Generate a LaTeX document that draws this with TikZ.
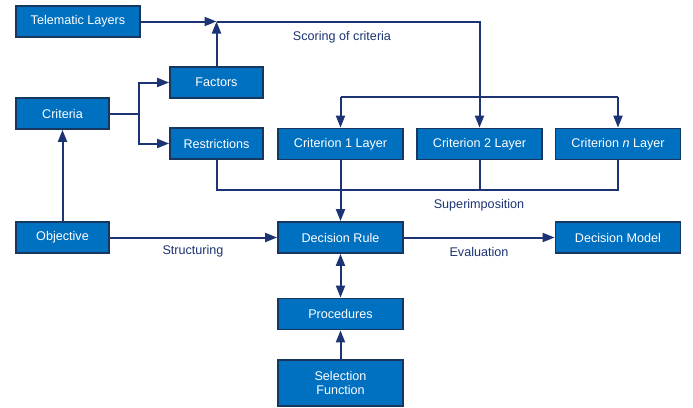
\documentclass[tikz,border=0pt]{standalone}
\usepackage{fontspec}
\setmainfont{Liberation Sans}
\usetikzlibrary{arrows.meta}
\definecolor{boxfill}{HTML}{0070C0}
\definecolor{boxline}{HTML}{17375E}
\definecolor{linecol}{HTML}{1C3473}
\begin{document}
\begin{tikzpicture}[x=1pt,y=-1pt,
  box/.style={draw=boxline,line width=1.8pt,fill=boxfill,text=white,
    minimum height=31pt,inner sep=0pt,align=center,
    font=\fontsize{12.6}{14.5}\selectfont},
  wbox/.style={box,minimum width=125pt},
  sbox/.style={box,minimum width=93pt},
  conn/.style={draw=linecol,line width=2pt},
  arr/.style={conn,-{Triangle[length=12pt,width=9pt]}},
  darr/.style={conn,{Triangle[length=12pt,width=9pt]}-{Triangle[length=12pt,width=9pt]}},
  lbl/.style={text=linecol,font=\fontsize{12.6}{14.5}\selectfont,inner sep=0pt}]
\useasboundingbox[fill=white] (0,0) rectangle (693,407);

\node[box,minimum width=124pt] (tel) at (78,21.5) {Telematic Layers};
\node[sbox] (fac) at (216.5,82.5) {Factors};
\node[sbox] (cri) at (62.5,113.5) {Criteria};
\node[sbox] (res) at (216.5,143.5) {Restrictions};
\node[wbox] (c1) at (340.5,144) {Criterion 1 Layer};
\node[wbox] (c2) at (479.5,144) {Criterion 2 Layer};
\node[wbox] (cn) at (618,144) {Criterion \emph{n} Layer};
\node[sbox] (obj) at (62.5,237.5) {Objective};
\node[wbox] (dr) at (340.5,237.5) {Decision Rule};
\node[wbox] (dm) at (618,237.5) {Decision Model};
\node[wbox] (proc) at (340.5,314) {Procedures};
\node[wbox,minimum height=46pt] (sel) at (340.5,383) {Selection\\Function};

\node[lbl] (score) at (342,37) {Scoring of criteria};
\node[lbl] (sup) at (479,205) {Superimposition};
\node[lbl] (struct) at (193,251) {Structuring};
\node[lbl] (eval) at (479,252) {Evaluation};

\coordinate (J) at (fac.north |- tel.east);
\coordinate (b1) at (340.5,97);
\coordinate (b2) at (c2.north |- b1);
\coordinate (bn) at (cn.north |- b1);
\coordinate (br) at (139,113.5);
\coordinate (s2) at (479.5,190);
\coordinate (sn) at (cn.south |- s2);

\draw[arr] (tel.east) -- (J);
\draw[arr] (fac.north) -- (J);
\draw[conn] (J) -| (b2);
\draw[conn] (b1) -- (bn);
\draw[arr] (b1) -- (c1.north);
\draw[arr] (b2) -- (c2.north);
\draw[arr] (bn) -- (cn.north);

\draw[conn] (cri.east) -- (br);
\draw[arr] (br) |- (fac.west);
\draw[arr] (br) |- (res.west);
\draw[arr] (obj.north) -- (cri.south);

\draw[conn] (res.south) |- (sn) -- (cn.south);
\draw[conn] (c2.south) -- (s2);
\draw[arr] (c1.south) -- (dr.north);

\draw[arr] (obj.east) -- (dr.west);
\draw[arr] (dr.east) -- (dm.west);
\draw[darr] (dr.south) -- (proc.north);
\draw[arr] (sel.north) -- (proc.south);
\end{tikzpicture}
\end{document}
